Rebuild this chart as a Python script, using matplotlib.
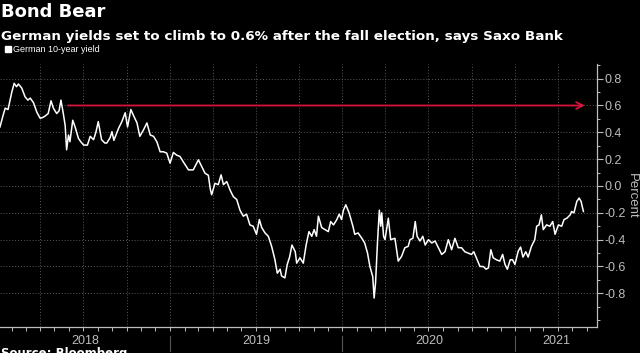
import pandas as pd
import matplotlib.pyplot as plt
import matplotlib.dates as mdates

# days since 2018-01-01 and German 10-year yield (%)
days = [5, 11, 16, 22, 30, 35, 40, 44, 51, 58, 64, 69, 76, 83, 90, 95, 100, 107, 113, 118,
        125, 130, 134, 139, 143, 146, 150, 153, 159, 164, 171, 176, 182, 190, 196, 203, 208, 213, 220, 227,
        231, 238, 242, 246, 256, 263, 270, 275, 282, 287, 295, 301, 309, 316, 323, 330, 337, 344, 351, 358,
        365, 372, 379, 386, 393, 404, 414, 425, 432, 439, 446, 450, 453, 460, 467, 473, 478, 485, 492, 499,
        506, 513, 520, 527, 534, 541, 548, 554, 559, 566, 573, 580, 587, 592, 598, 601, 608, 613, 618, 623,
        630, 633, 640, 647, 653, 659, 665, 670, 675, 679, 686, 693, 700, 705, 711, 718, 723, 728, 732, 737,
        744, 752, 756, 763, 771, 777, 783, 788, 794, 797, 800, 804, 808, 811, 813, 817, 820, 827, 832, 841,
        848, 855, 862, 869, 873, 879, 884, 888, 894, 900, 905, 912, 919, 926, 933, 940, 947, 954, 961, 968,
        975, 982, 989, 996, 1003, 1008, 1015, 1021, 1028, 1034, 1039, 1044, 1049, 1056, 1063, 1069, 1074, 1079, 1085, 1090,
        1095, 1102, 1107, 1112, 1118, 1123, 1130, 1137, 1141, 1146, 1151, 1155, 1162, 1169, 1175, 1180, 1187, 1194, 1199, 1205,
        1212, 1215, 1220, 1226, 1231, 1235, 1240]
yields = [0.44, 0.52, 0.58, 0.57, 0.70, 0.765, 0.74, 0.76, 0.73, 0.665, 0.64, 0.655, 0.62, 0.55, 0.505, 0.51, 0.52, 0.54, 0.635, 0.58,
          0.54, 0.56, 0.64, 0.54, 0.45, 0.27, 0.38, 0.33, 0.49, 0.44, 0.355, 0.33, 0.305, 0.305, 0.37, 0.345, 0.40, 0.48, 0.345, 0.32,
          0.32, 0.36, 0.405, 0.34, 0.43, 0.48, 0.546, 0.44, 0.57, 0.53, 0.47, 0.37, 0.42, 0.47, 0.38, 0.37, 0.33, 0.255, 0.255, 0.245,
          0.17, 0.25, 0.23, 0.22, 0.18, 0.12, 0.12, 0.195, 0.145, 0.095, 0.08, -0.02, -0.065, 0.02, 0.01, 0.083, 0.01, 0.033, -0.03, -0.08,
          -0.10, -0.18, -0.225, -0.21, -0.29, -0.30, -0.36, -0.25, -0.31, -0.35, -0.375, -0.45, -0.55, -0.65, -0.62, -0.67, -0.685, -0.585, -0.53, -0.44,
          -0.49, -0.575, -0.535, -0.575, -0.44, -0.34, -0.375, -0.325, -0.375, -0.225, -0.31, -0.325, -0.34, -0.265, -0.29, -0.25, -0.21, -0.25, -0.18, -0.14,
          -0.20, -0.30, -0.36, -0.35, -0.39, -0.425, -0.50, -0.60, -0.675, -0.835, -0.72, -0.425, -0.18, -0.30, -0.20, -0.375, -0.40, -0.24, -0.40, -0.39,
          -0.56, -0.525, -0.46, -0.45, -0.40, -0.39, -0.265, -0.375, -0.41, -0.375, -0.44, -0.40, -0.425, -0.41, -0.46, -0.51, -0.49, -0.40, -0.475, -0.39,
          -0.46, -0.46, -0.49, -0.50, -0.51, -0.49, -0.55, -0.60, -0.60, -0.62, -0.61, -0.475, -0.535, -0.55, -0.56, -0.51, -0.585, -0.62, -0.55, -0.55,
          -0.585, -0.485, -0.455, -0.53, -0.49, -0.53, -0.45, -0.40, -0.30, -0.29, -0.215, -0.325, -0.29, -0.30, -0.265, -0.36, -0.29, -0.30, -0.25, -0.24,
          -0.215, -0.19, -0.20, -0.115, -0.09, -0.115, -0.19]

target = 0.6
target_start = '2018-05-30'
target_end = '2021-05-28'
years = ['2018', '2019', '2020', '2021']
y_ticks = [0.8, 0.6, 0.4, 0.2, 0.0, -0.2, -0.4, -0.6, -0.8]

dates = pd.to_datetime('2018-01-01') + pd.to_timedelta(days, unit='D')
s = pd.Series(yields, index=dates)

narrow = ['Liberation Sans Narrow', 'Liberation Sans', 'DejaVu Sans']
grey = '#bdbdbd'

fig = plt.figure(figsize=(6.4, 3.53), dpi=100, facecolor='black')
ax = fig.add_axes([0.0, 0.074, 0.933, 0.745], facecolor='black')

ax.plot(s.index, s.values, color='white', linewidth=1.1)

x0 = pd.Timestamp('2018-01-06')
x1 = pd.Timestamp('2021-06-23')
ax.set_xlim(x0, x1)
ax.set_ylim(-1.05, 0.91)

ax.annotate('', xy=(pd.Timestamp(target_end), target), xytext=(pd.Timestamp(target_start), target),
            arrowprops=dict(arrowstyle='->', color='#d7143c', lw=1.3, shrinkA=0, shrinkB=0,
                            mutation_scale=12))

# axes styling
for side in ['left', 'top']:
    ax.spines[side].set_visible(False)
for side in ['right', 'bottom']:
    ax.spines[side].set_color(grey)
    ax.spines[side].set_linewidth(0.9)

ax.yaxis.tick_right()
ax.yaxis.set_label_position('right')
ax.set_yticks(y_ticks)
ax.set_yticklabels([f'{v:.1f}' for v in y_ticks])
ax.set_yticks([v / 10 for v in range(-10, 10)], minor=True)
ax.tick_params(axis='y', which='major', colors=grey, length=4, width=0.8, labelsize=9, pad=1)
ax.tick_params(axis='y', which='minor', colors=grey, length=2.5, width=0.7)
for lab in ax.get_yticklabels():
    lab.set_family(narrow)
ax.set_ylabel('Percent', color=grey, fontsize=9.5, rotation=270, labelpad=9, family=narrow)

ax.xaxis.set_major_locator(mdates.MonthLocator(bymonth=[1, 4, 7, 10]))
ax.xaxis.set_minor_locator(mdates.MonthLocator())
ax.tick_params(axis='x', which='both', colors=grey, length=3, width=0.7, labelbottom=False)

ax.grid(True, which='major', color='#5a5a5a', linestyle=(0, (1, 2)), linewidth=0.7)

# year labels and separators below the axis
trans = ax.get_xaxis_transform()
for i, yr in enumerate(years):
    start = max(pd.Timestamp(f'{yr}-01-01'), x0)
    end = min(pd.Timestamp(f'{int(yr) + 1}-01-01'), x1)
    mid = start + (end - start) / 2
    ax.text(mid, -0.055, yr, transform=trans, ha='center', va='center',
            color=grey, fontsize=9, family=narrow)
    if i > 0:
        ax.plot([pd.Timestamp(f'{yr}-01-01')] * 2, [-0.035, -0.09], transform=trans,
                color='#555555', linewidth=0.8, clip_on=False)

# titles and legend
fig.text(0.002, 0.992, 'Bond Bear', color='white', fontsize=13, fontweight='bold',
         ha='left', va='top')
fig.text(0.002, 0.897, 'German yields set to climb to 0.6% after the fall election, says Saxo Bank',
         color='white', fontsize=9.7, fontweight='bold', ha='left', va='center')
fig.patches.append(plt.Rectangle((0.008, 0.853), 0.009, 0.017, color='white',
                                 transform=fig.transFigure, figure=fig))
fig.text(0.021, 0.861, 'German 10-year yield', color='white', fontsize=6.5,
         ha='left', va='center', family=narrow)
fig.text(0.002, 0.016, 'Source: Bloomberg', color='white', fontsize=8.5, fontweight='bold',
         ha='left', va='top')

fig.savefig('out.png', dpi=100, facecolor='black')
